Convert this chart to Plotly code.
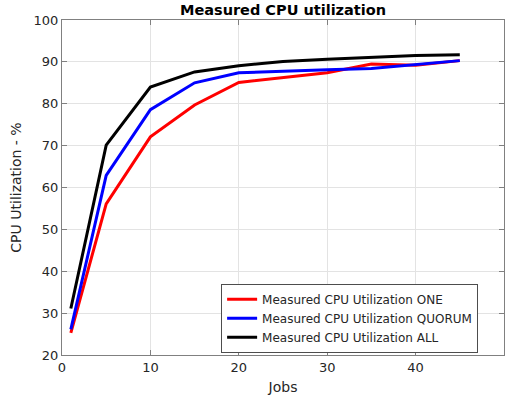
import plotly.graph_objects as go

jobs = [1, 5, 10, 15, 20, 25, 30, 35, 40, 45]
cpu_one = [25.3, 56.1, 72.1, 79.7, 85.1, 86.3, 87.4, 89.5, 89.2, 90.3]
cpu_quorum = [26.1, 62.9, 78.6, 85.0, 87.4, 87.8, 88.1, 88.4, 89.3, 90.3]
cpu_all = [31.1, 70.1, 84.0, 87.6, 89.1, 90.1, 90.6, 91.1, 91.5, 91.7]

names = ["Measured CPU Utilization ONE", "Measured CPU Utilization QUORUM", "Measured CPU Utilization ALL"]
colors = ["#ff0000", "#0000ff", "#000000"]

fig = go.Figure()
for ys, nm, c in zip([cpu_one, cpu_quorum, cpu_all], names, colors):
    fig.add_trace(go.Scatter(x=jobs, y=ys, mode="lines", name=nm,
                             line=dict(color=c, width=3)))

axis_common = dict(
    showgrid=True, gridcolor="#e3e3e3", gridwidth=1,
    showline=True, linecolor="#808080", linewidth=1, mirror="ticks",
    ticks="inside", ticklen=5, tickcolor="#808080",
    tickfont=dict(size=13, color="#262626"), zeroline=False,
)

fig.update_layout(
    width=512, height=401,
    margin=dict(l=62, r=8, t=20, b=46),
    paper_bgcolor="white", plot_bgcolor="white",
    font=dict(family="DejaVu Sans", color="#262626"),
    title=dict(text="<b>Measured CPU utilization</b>", x=(62 + 442 / 2) / 512, xanchor="center",
               y=1 - 10 / 401, yanchor="middle", font=dict(size=14.5, color="#000000")),
    xaxis=dict(range=[0, 50], dtick=10, title=dict(text="Jobs", font=dict(size=14), standoff=8), **axis_common),
    yaxis=dict(range=[20, 100], dtick=10, title=dict(text="CPU Utilization - %", font=dict(size=14), standoff=8), **axis_common),
    legend=dict(x=0.36, y=0.11, xanchor="left", yanchor="middle",
                bgcolor="white", bordercolor="#4d4d4d", borderwidth=1,
                font=dict(size=12, color="#262626"), tracegroupgap=0,
                itemwidth=30),
    showlegend=True,
)

fig.write_html("out.html")
